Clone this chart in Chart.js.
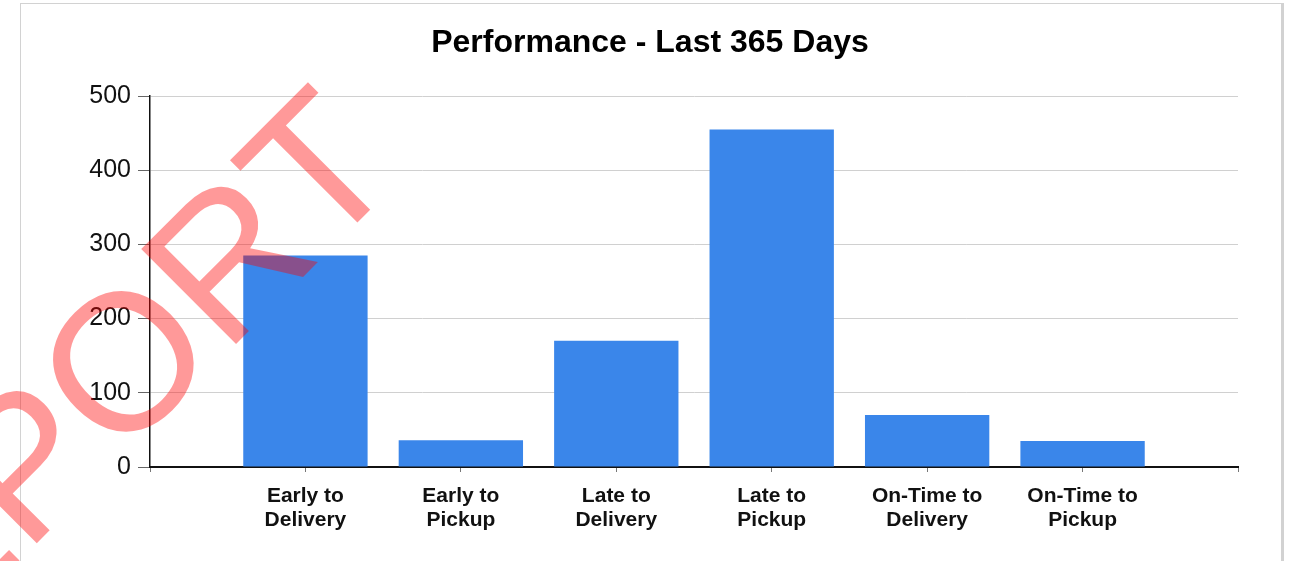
<!DOCTYPE html>
<html><head><meta charset="utf-8">
<script src="https://cdn.jsdelivr.net/npm/chart.js@4"></script>
<style>
html,body{margin:0;padding:0;background:#fff;width:1297px;height:561px;overflow:hidden;}
#frame{position:absolute;left:20px;top:3px;width:1260px;height:600px;border:1px solid #d2d2d2;border-right:3px solid #d2d2d2;box-sizing:content-box;}
#wrap{position:absolute;left:0;top:0;width:1297px;height:561px;}
</style></head><body>
<div id="frame"></div>
<div id="wrap"><canvas id="c" width="1297" height="561"></canvas></div>
<script>
const chartTitle = 'Performance - Last 365 Days';
const categories = ['Early to Delivery', 'Early to Pickup', 'Late to Delivery', 'Late to Pickup', 'On-Time to Delivery', 'On-Time to Pickup'];
const values = [285, 36, 170, 455, 70, 35];
const yTickMin = 0, yTickMax = 500, yTickStep = 100;
const watermarkText = 'REPORT';

// padded slots on both ends (the reference leaves an empty slot each side)
const labels = [''].concat(categories, ['']);
const data = [null].concat(values, [null]);

const FONT = '"Liberation Sans", Arial, sans-serif';
Chart.defaults.font.family = FONT;

const watermark = {
  id: 'watermark',
  afterDraw(chart) {
    const ctx = chart.ctx;
    ctx.save();
    ctx.translate(-166, 746);
    ctx.rotate(-Math.PI / 4);
    ctx.font = '195px ' + FONT;
    ctx.fillStyle = 'rgba(255,0,0,0.4)';
    ctx.textBaseline = 'alphabetic';
    ctx.textAlign = 'left';
    ctx.fillText(watermarkText, 0, 0);
    ctx.restore();
  }
};

new Chart(document.getElementById('c'), {
  type: 'bar',
  data: {
    labels: labels,
    datasets: [{
      data: data,
      backgroundColor: '#3a86ea',
      borderWidth: 0,
      barPercentage: 0.8,
      categoryPercentage: 1.0
    }]
  },
  options: {
    responsive: false,
    animation: false,
    events: [],
    layout: { padding: { left: 62, right: 59, top: 0, bottom: 0 } },
    plugins: {
      legend: { display: false },
      tooltip: { enabled: false },
      title: {
        display: true,
        text: chartTitle,
        color: '#000',
        font: { size: 32, weight: 'bold', lineHeight: 1.2 },
        padding: { top: 24, bottom: 33.6 }
      }
    },
    scales: {
      x: {
        type: 'category',
        offset: false,
        afterFit(s) { s.height = 94; },
        grid: { offset: false, drawOnChartArea: false, drawTicks: true, tickLength: 5, tickColor: '#777', tickWidth: 1 },
        border: { display: true, color: '#111', width: 2 },
        ticks: {
          autoSkip: false, maxRotation: 0, minRotation: 0,
          padding: 12,
          color: '#111',
          font: { size: 21, weight: 'bold', lineHeight: 1.15 },
          callback(v, i) {
            const l = this.getLabelForValue(v);
            if (!l) return '';
            const k = l.indexOf(' to ');
            return [l.slice(0, k + 3), l.slice(k + 4)];
          }
        }
      },
      y: {
        min: yTickMin, max: yTickMax,
        afterFit(s) { s.width = 88; },
        grid: { color: '#d0d0d0', lineWidth: 1, tickLength: 12, tickColor: '#666', tickWidth: 1, drawTicks: true },
        border: { display: true, color: '#111', width: 1.5 },
        ticks: { stepSize: yTickStep, padding: 7, color: '#111', font: { size: 25 } }
      }
    }
  },
  plugins: [watermark]
});
</script>
</body></html>
